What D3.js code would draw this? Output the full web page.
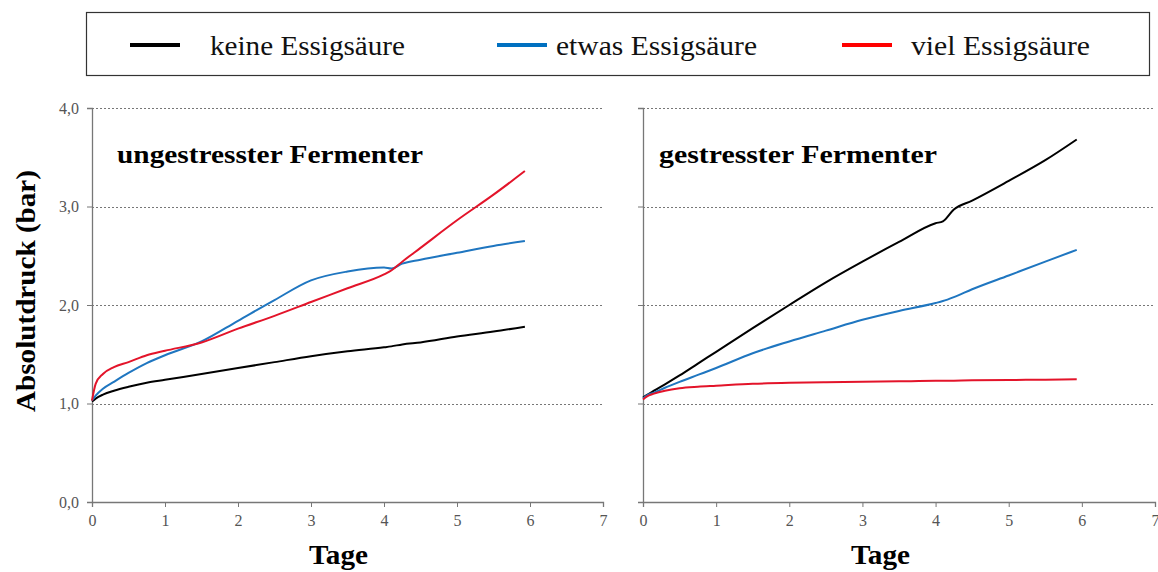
<!DOCTYPE html>
<html>
<head>
<meta charset="utf-8">
<script src="https://cdn.jsdelivr.net/npm/d3@7"></script>
<style>
  html, body { margin: 0; padding: 0; background: #fff; }
  svg { display: block; }
</style>
</head>
<body>
<svg id="chart" width="1158" height="572"></svg>
<script>
// Measurement days shared by all series
const days = [0, 0.05, 0.15, 0.3, 0.5, 0.75, 1, 1.5, 2, 2.5, 3, 3.5, 4, 4.1, 4.25, 4.5, 5, 5.5, 5.93];

// Absolute pressure (bar) – unstressed fermenter
const unstressedNone  = [1.02, 1.05, 1.09, 1.13, 1.17, 1.21, 1.24, 1.30, 1.36, 1.42, 1.48, 1.53, 1.57, 1.58, 1.60, 1.62, 1.68, 1.73, 1.78];
const unstressedSome  = [1.03, 1.08, 1.15, 1.22, 1.31, 1.41, 1.49, 1.63, 1.84, 2.05, 2.25, 2.34, 2.38, 2.37, 2.42, 2.46, 2.53, 2.60, 2.65];
const unstressedMuch  = [1.03, 1.20, 1.30, 1.37, 1.42, 1.49, 1.535, 1.62, 1.76, 1.89, 2.03, 2.17, 2.31, 2.35, 2.44, 2.58, 2.86, 3.12, 3.36];

// Absolute pressure (bar) – stressed fermenter
const stressedNone    = [1.06, 1.085, 1.13, 1.195, 1.285, 1.405, 1.525, 1.765, 2.0, 2.23, 2.44, 2.64, 2.83, 2.85, 2.97, 3.06, 3.26, 3.47, 3.68];
const stressedSome    = [1.05, 1.08, 1.11, 1.16, 1.22, 1.29, 1.36, 1.51, 1.63, 1.74, 1.85, 1.94, 2.02, 2.04, 2.08, 2.16, 2.30, 2.44, 2.56];
const stressedMuch    = [1.04, 1.07, 1.10, 1.13, 1.155, 1.17, 1.18, 1.20, 1.21, 1.215, 1.22, 1.225, 1.23, 1.23, 1.232, 1.235, 1.238, 1.242, 1.245];

const seriesNames  = ["keine Essigsäure", "etwas Essigsäure", "viel Essigsäure"];
const seriesColors = ["#000000", "#1f76c0", "#e3142a"];
const legendColors = ["#000000", "#0070c0", "#ff0000"];

const panelTitles = ["ungestresster Fermenter", "gestresster Fermenter"];
const xTicks = [0, 1, 2, 3, 4, 5, 6, 7];
const yTicks = [0, 1, 2, 3, 4];
const yTickLabels = ["0,0", "1,0", "2,0", "3,0", "4,0"];

const svg = d3.select("#chart");
const serif = "'Liberation Serif', 'Times New Roman', serif";

// Legend box
svg.append("rect")
  .attr("x", 86.5).attr("y", 12.5).attr("width", 1063).attr("height", 63)
  .attr("fill", "#fff").attr("stroke", "#333").attr("stroke-width", 1.2);

const legendItems = [
  { lx: 130, tx: 210, w: 195 },
  { lx: 497, tx: 556, w: 201 },
  { lx: 842, tx: 911, w: 179 }
];
legendItems.forEach((it, i) => {
  svg.append("line")
    .attr("x1", it.lx).attr("x2", it.lx + 50)
    .attr("y1", 45).attr("y2", 45)
    .attr("stroke", legendColors[i]).attr("stroke-width", 4);
  svg.append("text")
    .attr("x", it.tx).attr("y", 55)
    .attr("font-family", serif).attr("font-size", 27)
    .attr("textLength", it.w).attr("lengthAdjust", "spacingAndGlyphs")
    .attr("fill", "#111")
    .text(seriesNames[i]);
});

const panels = [
  { x0: 92, x1: 603, data: [unstressedNone, unstressedSome, unstressedMuch], labels: true, title: panelTitles[0], tx: 117, tw: 306, ax: 309 },
  { x0: 643, x1: 1155, data: [stressedNone, stressedSome, stressedMuch], labels: false, title: panelTitles[1], tx: 659, tw: 278, ax: 851 }
];

const yTop = 108, yBottom = 502;

panels.forEach(p => {
  const x = d3.scaleLinear().domain([0, 7]).range([p.x0, p.x1]);
  const y = d3.scaleLinear().domain([0, 4]).range([yBottom, yTop]);
  const g = svg.append("g");

  // dotted horizontal grid
  g.selectAll("line.grid").data(yTicks.filter(v => v > 0)).join("line")
    .attr("class", "grid")
    .attr("x1", p.x0).attr("x2", p.x1)
    .attr("y1", d => Math.round(y(d)) + 0.5).attr("y2", d => Math.round(y(d)) + 0.5)
    .attr("stroke", "#777").attr("stroke-width", 1.2)
    .attr("stroke-dasharray", "2,2");

  // x axis
  const xAxis = d3.axisBottom(x).tickValues(xTicks).tickSize(5).tickPadding(8)
    .tickFormat(d3.format("d"));
  const gx = g.append("g").attr("transform", `translate(0,${yBottom})`).call(xAxis);
  gx.select(".domain").attr("stroke", "#777").attr("stroke-width", 1.3);
  gx.selectAll(".tick line").attr("stroke", "#777");
  gx.selectAll(".tick text")
    .attr("font-family", serif).attr("font-size", 16).attr("fill", "#555");

  // y axis
  const yAxis = d3.axisLeft(y).tickValues(yTicks).tickSize(5).tickPadding(8)
    .tickFormat((d, i) => p.labels ? yTickLabels[i] : "");
  const gy = g.append("g").attr("transform", `translate(${p.x0},0)`).call(yAxis);
  gy.select(".domain").attr("stroke", "#777").attr("stroke-width", 1.3);
  gy.selectAll(".tick line").attr("stroke", "#777");
  gy.selectAll(".tick text")
    .attr("font-family", serif).attr("font-size", 16).attr("fill", "#555");

  // curves
  const line = d3.line()
    .x((d, i) => x(days[i]))
    .y(d => y(d))
    .curve(d3.curveMonotoneX);
  p.data.forEach((vals, i) => {
    g.append("path")
      .datum(vals)
      .attr("d", line)
      .attr("fill", "none")
      .attr("stroke", seriesColors[i])
      .attr("stroke-width", 2);
  });

  // panel title
  g.append("text")
    .attr("x", p.tx).attr("y", 163)
    .attr("font-family", serif).attr("font-size", 25).attr("font-weight", "bold")
    .attr("textLength", p.tw).attr("lengthAdjust", "spacingAndGlyphs")
    .attr("fill", "#000")
    .text(p.title);

  // x axis title
  g.append("text")
    .attr("x", p.ax).attr("y", 564)
    .attr("font-family", serif).attr("font-size", 27).attr("font-weight", "bold")
    .attr("textLength", 59).attr("lengthAdjust", "spacingAndGlyphs")
    .text("Tage");
});

// y axis title
svg.append("text")
  .attr("transform", "translate(35,291) rotate(-90)")
  .attr("text-anchor", "middle")
  .attr("font-family", serif).attr("font-size", 27).attr("font-weight", "bold")
  .attr("textLength", 242).attr("lengthAdjust", "spacingAndGlyphs")
  .text("Absolutdruck (bar)");
</script>
</body>
</html>
